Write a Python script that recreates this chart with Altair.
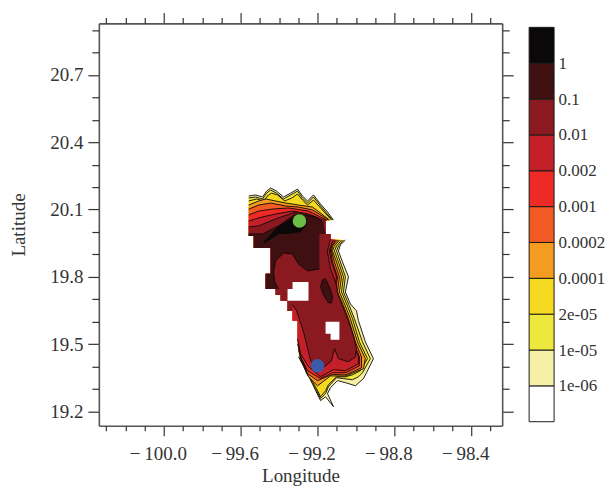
import altair as alt
import pandas as pd

FONT = "Liberation Serif"
INK = "#333333"

X_DOMAIN = [-100.338, -98.239]
Y_DOMAIN = [19.136, 20.93]
X_MAJOR = [-100.0, -99.6, -99.2, -98.8, -98.4]
X_MINOR = [-100.3, -100.2, -100.1, -99.9, -99.8, -99.7, -99.5, -99.4, -99.3, -99.1, -99.0, -98.9, -98.7, -98.6, -98.5, -98.3]
Y_MAJOR = [19.2, 19.5, 19.8, 20.1, 20.4, 20.7]
Y_MINOR = [19.3, 19.4, 19.6, 19.7, 19.9, 20.0, 20.2, 20.3, 20.5, 20.6, 20.8, 20.9]

BAND_COLORS = ["#ffffff", "#f6f0a6", "#eee83c", "#f5d820", "#f39c1f", "#f15a22", "#ee2a26", "#c4202a", "#8a1a20", "#3f1012", "#0a0808"]
BAND_LABELS = ["1e-06", "1e-05", "2e-05", "0.0001", "0.0002", "0.001", "0.002", "0.01", "0.1", "1"]

BLOCK_LON = [-99.158, -99.158, -99.132, -99.132]
BLOCK_LAT = [20.049, 19.991, 19.991, 19.969]
STAIR_LOW_LON = [-99.304, -99.304, -99.330, -99.330, -99.356]
STAIR_LOW_LAT = [19.524, 19.604, 19.604, 19.648, 19.648]
STAIR_UP_LON = [-99.356, -99.392, -99.392, -99.418, -99.418, -99.470, -99.470, -99.444, -99.444, -99.532, -99.532, -99.558]
STAIR_UP_LAT = [19.693, 19.693, 19.719, 19.719, 19.746, 19.746, 19.813, 19.813, 19.928, 19.928, 19.982, 19.982]

L0_TOP_LON = [-99.558, -99.522, -99.486, -99.465, -99.444, -99.413, -99.377, -99.340, -99.304, -99.278, -99.252, -99.221, -99.184, -99.148, -99.117]
L0_TOP_LAT = [20.160, 20.165, 20.156, 20.182, 20.196, 20.182, 20.156, 20.173, 20.191, 20.160, 20.138, 20.165, 20.124, 20.089, 20.053]
L0_RIGHT_LON = [-99.055, -99.081, -99.091, -99.070, -99.039, -99.055, -99.029, -98.997, -98.987, -98.951, -98.909, -98.945, -98.961, -99.003, -99.055, -99.096, -99.132, -99.148, -99.117, -99.158, -99.184, -99.210, -99.221, -99.252, -99.299]
L0_RIGHT_LAT = [19.964, 19.942, 19.915, 19.866, 19.800, 19.732, 19.679, 19.648, 19.604, 19.510, 19.435, 19.372, 19.346, 19.314, 19.328, 19.337, 19.306, 19.279, 19.221, 19.265, 19.248, 19.292, 19.314, 19.368, 19.443]

L1_TOP_LON = [-99.558, -99.522, -99.486, -99.465, -99.444, -99.413, -99.377, -99.340, -99.304, -99.278, -99.252, -99.221, -99.184, -99.153, -99.122]
L1_TOP_LAT = [20.151, 20.156, 20.147, 20.173, 20.187, 20.173, 20.147, 20.165, 20.182, 20.151, 20.129, 20.156, 20.116, 20.084, 20.053]
L1_RIGHT_LON = [-99.065, -99.091, -99.101, -99.081, -99.055, -99.065, -99.034, -99.008, -98.966, -98.925, -98.966, -98.987, -99.018, -99.065, -99.101, -99.143, -99.158, -99.184, -99.205, -99.226, -99.252, -99.294]
L1_RIGHT_LAT = [19.964, 19.937, 19.915, 19.866, 19.800, 19.732, 19.670, 19.613, 19.510, 19.435, 19.372, 19.354, 19.341, 19.346, 19.350, 19.310, 19.279, 19.257, 19.292, 19.323, 19.368, 19.443]

L2_TOP_LON = [-99.558, -99.517, -99.481, -99.455, -99.439, -99.408, -99.371, -99.335, -99.304, -99.278, -99.252, -99.221, -99.184, -99.127]
L2_TOP_LAT = [20.138, 20.147, 20.138, 20.165, 20.173, 20.165, 20.138, 20.151, 20.169, 20.142, 20.120, 20.142, 20.107, 20.053]
L2_RIGHT_LON = [-99.075, -99.101, -99.112, -99.091, -99.065, -99.075, -99.044, -99.018, -98.982, -98.940, -98.977, -99.018, -99.055, -99.101, -99.143, -99.158, -99.184, -99.205, -99.226, -99.257, -99.294]
L2_RIGHT_LAT = [19.964, 19.937, 19.915, 19.866, 19.800, 19.732, 19.670, 19.613, 19.510, 19.435, 19.381, 19.363, 19.354, 19.354, 19.319, 19.292, 19.265, 19.301, 19.332, 19.368, 19.452]

L3_TOP_LON = [-99.558, -99.506, -99.470, -99.418, -99.366, -99.299, -99.226, -99.184, -99.138]
L3_TOP_LAT = [20.120, 20.138, 20.147, 20.138, 20.129, 20.120, 20.111, 20.084, 20.053]
L3_RIGHT_LON = [-99.086, -99.112, -99.122, -99.101, -99.075, -99.086, -99.055, -99.029, -98.992, -98.951, -98.961, -99.055, -99.132, -99.200, -99.247, -99.273, -99.299]
L3_RIGHT_LAT = [19.964, 19.937, 19.915, 19.866, 19.800, 19.732, 19.670, 19.613, 19.510, 19.435, 19.390, 19.357, 19.358, 19.314, 19.354, 19.412, 19.470]

L4_TOP_LON = [-99.558, -99.506, -99.444, -99.366, -99.299, -99.226, -99.184, -99.143]
L4_TOP_LAT = [20.102, 20.120, 20.129, 20.116, 20.111, 20.098, 20.076, 20.053]
L4_RIGHT_LON = [-99.096, -99.122, -99.127, -99.112, -99.086, -99.096, -99.065, -99.039, -99.003, -98.971, -98.971, -99.055, -99.122, -99.200, -99.252, -99.278, -99.299]
L4_RIGHT_LAT = [19.964, 19.937, 19.915, 19.866, 19.800, 19.732, 19.670, 19.613, 19.510, 19.443, 19.394, 19.362, 19.365, 19.337, 19.368, 19.426, 19.479]

L5_TOP_LON = [-99.558, -99.506, -99.434, -99.351, -99.247, -99.195, -99.153]
L5_TOP_LAT = [20.076, 20.093, 20.102, 20.107, 20.093, 20.071, 20.053]
L5_RIGHT_LON = [-99.106, -99.127, -99.132, -99.122, -99.096, -99.106, -99.075, -99.049, -99.013, -98.982, -98.982, -99.055, -99.122, -99.184, -99.252, -99.283, -99.304]
L5_RIGHT_LAT = [19.964, 19.937, 19.915, 19.866, 19.800, 19.732, 19.670, 19.613, 19.510, 19.443, 19.403, 19.372, 19.372, 19.346, 19.381, 19.435, 19.501]

L6_TOP_LON = [-99.558, -99.486, -99.418, -99.330, -99.247, -99.195, -99.158]
L6_TOP_LAT = [20.049, 20.067, 20.080, 20.093, 20.080, 20.062, 20.049]
L6_RIGHT_LON = [-99.117, -99.132, -99.138, -99.127, -99.101, -99.112, -99.086, -99.060, -99.023, -98.987, -98.987, -99.055, -99.117, -99.184, -99.247, -99.288, -99.304]
L6_RIGHT_LAT = [19.964, 19.937, 19.915, 19.866, 19.800, 19.732, 19.670, 19.613, 19.510, 19.443, 19.412, 19.381, 19.386, 19.354, 19.399, 19.457, 19.524]

L7_TOP_LON = [-99.558, -99.506, -99.418, -99.314, -99.226, -99.174]
L7_TOP_LAT = [20.022, 20.027, 20.058, 20.089, 20.071, 20.049]
L7_RIGHT_LON = [-99.132, -99.143, -99.148, -99.132, -99.106, -99.091, -99.070, -99.044, -99.013, -98.997, -99.003, -99.039, -99.091, -99.112, -99.127, -99.158, -99.195, -99.236, -99.273, -99.309, -99.330]
L7_RIGHT_LAT = [19.969, 19.937, 19.911, 19.835, 19.777, 19.715, 19.670, 19.613, 19.537, 19.479, 19.443, 19.421, 19.435, 19.479, 19.426, 19.403, 19.381, 19.426, 19.555, 19.648, 19.675]

L8_TOP_LON = [-99.558, -99.486, -99.403, -99.314, -99.210, -99.169]
L8_TOP_LAT = [19.991, 19.991, 20.027, 20.080, 20.067, 20.040]
L8_BLOCK_LON = [-99.158, -99.190]
L8_BLOCK_LAT = [19.991, 19.991]
L8_RIGHT_LON = [-99.190, -99.252, -99.299, -99.330, -99.377, -99.418, -99.429, -99.423, -99.403]
L8_RIGHT_LAT = [19.835, 19.826, 19.857, 19.902, 19.906, 19.871, 19.822, 19.777, 19.746]
L8_STAIR_LON = [-99.418, -99.470, -99.470, -99.444, -99.444, -99.532, -99.532, -99.558]
L8_STAIR_LAT = [19.746, 19.746, 19.813, 19.813, 19.928, 19.928, 19.982, 19.982]

OVAL_LON = [-99.174, -99.158, -99.138, -99.122, -99.127, -99.143, -99.169, -99.184, -99.174]
OVAL_LAT = [19.786, 19.791, 19.755, 19.710, 19.684, 19.684, 19.719, 19.755, 19.786]
BLACK_LON = [-99.481, -99.403, -99.356, -99.288, -99.262, -99.252, -99.304, -99.366, -99.408, -99.481]
BLACK_LAT = [19.946, 19.991, 19.991, 20.000, 20.027, 20.058, 20.076, 20.044, 20.022, 19.955]
HOLE1_LON = [-99.330, -99.247, -99.247, -99.356, -99.356, -99.330]
HOLE1_LAT = [19.777, 19.777, 19.693, 19.693, 19.746, 19.746]
HOLE2_LON = [-99.158, -99.086, -99.086, -99.132, -99.132, -99.158]
HOLE2_LAT = [19.599, 19.599, 19.519, 19.519, 19.546, 19.546]

GREEN_POINT = (-99.294, 20.049)
BLUE_POINT = (-99.200, 19.403)

xs = alt.Scale(domain=X_DOMAIN, nice=False, zero=False)
ys = alt.Scale(domain=Y_DOMAIN, nice=False, zero=False)


def frame(lons, lats):
    return pd.DataFrame({"lon": lons, "lat": lats, "i": range(len(lons))})


def enc(ch):
    return ch.encode(
        x=alt.X("lon:Q", scale=xs, axis=None),
        y=alt.Y("lat:Q", scale=ys, axis=None),
        order=alt.Order("i:Q"),
    )


def fill(lons, lats, color):
    return enc(alt.Chart(frame(lons, lats)).mark_line(
        filled=True, fill=color, stroke=color, strokeWidth=0, interpolate="linear"))


def contour(lons, lats, width=0.9):
    return enc(alt.Chart(frame(lons, lats)).mark_line(
        color="#0d0808", strokeWidth=width, interpolate="linear"))


LEVELS = [
    (L0_TOP_LON, L0_TOP_LAT, L0_RIGHT_LON, L0_RIGHT_LAT, BAND_COLORS[1]),
    (L1_TOP_LON, L1_TOP_LAT, L1_RIGHT_LON, L1_RIGHT_LAT, BAND_COLORS[2]),
    (L2_TOP_LON, L2_TOP_LAT, L2_RIGHT_LON, L2_RIGHT_LAT, BAND_COLORS[3]),
    (L3_TOP_LON, L3_TOP_LAT, L3_RIGHT_LON, L3_RIGHT_LAT, BAND_COLORS[4]),
    (L4_TOP_LON, L4_TOP_LAT, L4_RIGHT_LON, L4_RIGHT_LAT, BAND_COLORS[5]),
    (L5_TOP_LON, L5_TOP_LAT, L5_RIGHT_LON, L5_RIGHT_LAT, BAND_COLORS[6]),
    (L6_TOP_LON, L6_TOP_LAT, L6_RIGHT_LON, L6_RIGHT_LAT, BAND_COLORS[7]),
]

layers = []
for tlon, tlat, rlon, rlat, color in LEVELS:
    lons = tlon + BLOCK_LON + rlon + STAIR_LOW_LON + STAIR_UP_LON
    lats = tlat + BLOCK_LAT + rlat + STAIR_LOW_LAT + STAIR_UP_LAT
    layers.append(fill(lons, lats, color))
    layers.append(contour(tlon, tlat))
    layers.append(contour(rlon, rlat))

layers.append(fill(L7_TOP_LON + BLOCK_LON + L7_RIGHT_LON + STAIR_LOW_LON[-2:] + STAIR_UP_LON,
                   L7_TOP_LAT + BLOCK_LAT + L7_RIGHT_LAT + STAIR_LOW_LAT[-2:] + STAIR_UP_LAT, BAND_COLORS[8]))
layers.append(contour(L7_TOP_LON, L7_TOP_LAT))
layers.append(contour(L7_RIGHT_LON, L7_RIGHT_LAT))
layers.append(fill(L8_TOP_LON + L8_BLOCK_LON + L8_RIGHT_LON + L8_STAIR_LON,
                   L8_TOP_LAT + L8_BLOCK_LAT + L8_RIGHT_LAT + L8_STAIR_LAT, BAND_COLORS[9]))
layers.append(contour(L8_TOP_LON, L8_TOP_LAT))
layers.append(contour(L8_RIGHT_LON, L8_RIGHT_LAT))
layers.append(fill(OVAL_LON, OVAL_LAT, BAND_COLORS[9]))
layers.append(contour(OVAL_LON, OVAL_LAT))
layers.append(fill(BLACK_LON, BLACK_LAT, BAND_COLORS[10]))
layers.append(fill(HOLE1_LON, HOLE1_LAT, "#ffffff"))
layers.append(fill(HOLE2_LON, HOLE2_LAT, "#ffffff"))

for (plon, plat), color in ((GREEN_POINT, "#6cbd45"), (BLUE_POINT, "#3b5ba9")):
    layers.append(alt.Chart(pd.DataFrame({"lon": [plon], "lat": [plat]})).mark_point(
        filled=True, size=185, color=color, opacity=1
    ).encode(x=alt.X("lon:Q", scale=xs, axis=None), y=alt.Y("lat:Q", scale=ys, axis=None)))

X_LABEL = "'\u2212\u2009' + format(abs(datum.value), '.1f')"
anchor = pd.DataFrame({"lon": [-99.3], "lat": [20.0]})


def axis_layer(xaxis, yaxis):
    return alt.Chart(anchor).mark_point(opacity=0).encode(
        x=alt.X("lon:Q", scale=xs, axis=xaxis),
        y=alt.Y("lat:Q", scale=ys, axis=yaxis),
    )


common = dict(grid=False, tickColor=INK, tickWidth=1.2, domainColor="#555555", domainWidth=1.6,
              labelFont=FONT, titleFont=FONT, labelColor=INK, titleColor=INK, labelFontSize=19,
              titleFontSize=19, titleFontWeight="normal")

layers.append(axis_layer(
    alt.Axis(orient="bottom", values=X_MAJOR, tickSize=10, labelExpr=X_LABEL, title="Longitude",
             labelPadding=9, labelOffset=-6, titlePadding=3, labelOverlap=False, **common),
    alt.Axis(orient="left", values=Y_MAJOR, tickSize=11, format=".1f", title="Latitude",
             labelPadding=5, titlePadding=21, **common),
))
layers.append(axis_layer(
    alt.Axis(orient="bottom", values=X_MINOR, tickSize=5, labels=False, title=None, domain=False, grid=False,
             tickColor=INK, tickWidth=1.2),
    alt.Axis(orient="left", values=Y_MINOR, tickSize=7, labels=False, title=None, domain=False, grid=False,
             tickColor=INK, tickWidth=1.2),
))
layers.append(axis_layer(
    alt.Axis(orient="top", values=X_MAJOR, tickSize=11, labels=False, title=None, grid=False,
             tickColor=INK, tickWidth=1.2, domainColor="#555555", domainWidth=1.6),
    alt.Axis(orient="right", values=Y_MAJOR, tickSize=11, labels=False, title=None, grid=False,
             tickColor=INK, tickWidth=1.2, domainColor="#555555", domainWidth=1.6),
))
layers.append(axis_layer(
    alt.Axis(orient="top", values=X_MINOR, tickSize=6, labels=False, title=None, domain=False, grid=False,
             tickColor=INK, tickWidth=1.2),
    alt.Axis(orient="right", values=Y_MINOR, tickSize=7, labels=False, title=None, domain=False, grid=False,
             tickColor=INK, tickWidth=1.2),
))

main = alt.layer(*layers).properties(width=404, height=403).resolve_axis(x="independent", y="independent")

bands = pd.DataFrame({
    "lo": list(range(11)),
    "hi": list(range(1, 12)),
    "color": BAND_COLORS,
})
labels_expr = "[" + ",".join("'%s'" % s for s in BAND_LABELS) + "][datum.value - 1]"
bar = alt.Chart(bands).mark_rect(stroke="#1a1a1a", strokeWidth=1).encode(
    x=alt.value(0), x2=alt.value(25),
    y=alt.Y("lo:Q", scale=alt.Scale(domain=[-0.111, 11.111], nice=False, zero=False),
            axis=alt.Axis(orient="right", values=list(range(1, 11)), labelExpr=labels_expr, ticks=False,
                          domain=False, grid=False, title=None, labelFont=FONT, labelFontSize=17,
                          labelColor=INK, labelPadding=4, labelOverlap=False)),
    y2="hi:Q",
    fill=alt.Fill("color:N", scale=None, legend=None),
).properties(width=25, height=403)

chart = alt.hconcat(main, bar, spacing=14).properties(
    padding={"left": 1, "top": 3, "right": 0, "bottom": 0},
    background="white",
).configure_view(stroke=None)

chart.save("out.html", embed_options={"renderer": "svg", "actions": False})
